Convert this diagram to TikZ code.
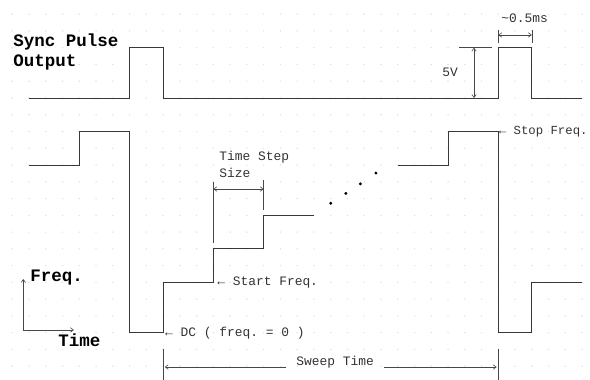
\documentclass[tikz,border=0pt]{standalone}
\usepackage{fontspec}
\setmonofont{Liberation Mono}
\usetikzlibrary{arrows.meta, backgrounds, positioning}

\begin{document}
\begin{tikzpicture}[
            x=16.76pt,
            y=16.76pt,
            >={Straight Barb[length=3pt,width=4.5pt]},
            semithick
        ]

        \tikzstyle{wave}=[draw=black!78, line width=1pt]
        \tikzstyle{dim}=[draw=black!72, line width=0.6pt]
        \tikzstyle{txt}=[inner sep=0pt, text=black!80,
            font=\ttfamily\fontsize{12.9}{16.7}\selectfont]
        \tikzstyle{heading}=[inner sep=0pt, align=left,
            font=\ttfamily\bfseries\fontsize{17.5}{20}\selectfont]

        \useasboundingbox (-0.730,5.847) rectangle (34.47,-16.766);

        % dotted paper
        \foreach \i in {0,...,34}
            \foreach \j in {-16,...,5}
                \fill[black!12] (\i,\j) circle (0.8pt);

        % Sync pulse output
        \node[heading, anchor=west] (sync) at (0.05,2.74) {Sync Pulse\\Output};
        \draw[wave] (1,0) -- (7,0) -- (7,3) -- (9,3) -- (9,0) -- (29,0)
            -- (29,3) -- (31,3) -- (31,0) -- (34,0);

        \node[txt] (volt) at (26.12,1.55) {5V};
        \coordinate (vtop) at (27.55,3);
        \coordinate (vbot) at (27.55,0);
        \draw[dim] (26.66,3) -- (28.6,3);
        \draw[dim,<->] (vtop) -- (vbot);

        \node[txt] (width) at (30.57,4.77) {\textasciitilde0.5ms};
        \coordinate (wl) at (29,3.76);
        \coordinate (wr) at (31,3.76);
        \draw[dim] (29,4.06) -- (29,3.28);
        \draw[dim] (31,4.06) -- (31,3.28);
        \draw[dim,<->] (wl) -- (wr);

        % Frequency sweep
        \draw[wave] (1,-4) -- (4,-4) -- (4,-2) -- (7,-2) -- (7,-14) -- (9,-14)
            -- (9,-11) -- (12,-11) -- (12,-9) -- (15,-9) -- (15,-7) -- (18,-7);
        \draw[wave] (23,-4) -- (26,-4) -- (26,-2) -- (29,-2) -- (29,-14)
            -- (31,-14) -- (31,-11) -- (34,-11);
        \foreach \p in {(19,-6.28),(19.9,-5.69),(20.77,-5.12),(21.7,-4.48)}
            \fill \p circle (1.6pt);

        \node[txt, anchor=west, font=\ttfamily\fontsize{12.3}{16.7}\selectfont]
            (stop) at (29.02,-2) {← Stop Freq.};
        \node[txt, anchor=west] (start) at (12.22,-11) {← Start Freq.};
        \node[txt, anchor=west] (dc) at (9.11,-14) {← DC ( freq. = 0 )};

        \node[txt, anchor=west, align=left] (tstep) at (12.34,-3.97) {Time Step\\Size};
        \coordinate (tsl) at (12,-5.43);
        \coordinate (tsr) at (15,-5.43);
        \draw[dim] (12,-5.0) -- (12,-8.65);
        \draw[dim] (15,-4.9) -- (15,-6.7);
        \draw[dim,<->] (tsl) -- (tsr);

        % Sweep time
        \node[txt, anchor=base, inner xsep=10pt] (sweep) at (19.26,-15.96) {Sweep Time};
        \coordinate (swl) at (9.1,-16.05);
        \coordinate (swr) at (28.9,-16.05);
        \coordinate (swa) at (sweep.west |- swl);
        \coordinate (swb) at (sweep.east |- swr);
        \draw[dim] (9,-14.95) -- (9,-16.8);
        \draw[dim] (29,-14.95) -- (29,-16.8);
        \draw[dim,->] (swa) -- (swl);
        \draw[dim,->] (swb) -- (swr);

        % Axes key
        \coordinate (orig) at (0.66,-13.84);
        \coordinate (ftip) at (0.66,-10.8);
        \coordinate (ttip) at (3.68,-13.84);
        \draw[dim,->] (orig) -- (ftip);
        \draw[dim,->] (orig) -- (ttip);
        \node[heading, anchor=west] (freq) at (1.06,-10.74) {Freq.};
        \node[heading, anchor=west] (time) at (2.73,-14.44) {Time};

    \end{tikzpicture}
\end{document}
